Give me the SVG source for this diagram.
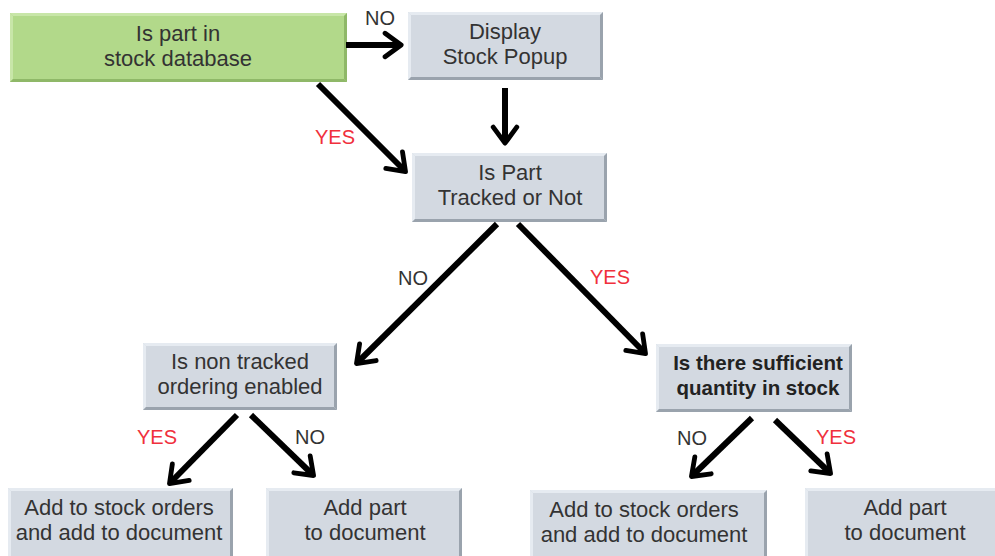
<svg xmlns="http://www.w3.org/2000/svg" width="995" height="556" viewBox="0 0 995 556">
<style>
.box{fill:#d3d9e1}
.hl{fill:#e6ebf1}
.sh{fill:#9aa3ad}
.gbox{fill:#b2d98a}
.ghl{fill:#c8e6a8}
.gsh{fill:#8fb868}
.t{font-family:"Liberation Sans",Arial,sans-serif;font-size:22px;fill:#333;text-anchor:middle}
.tb{font-weight:bold;font-size:20.5px;fill:#222}
.lbl{font-family:"Liberation Sans",Arial,sans-serif;font-size:20px;text-anchor:middle}
.no{fill:#333}
.yes{fill:#f0303c}
.conn{stroke:#000;stroke-width:6;fill:none;marker-end:url(#ah)}
</style>
<defs>
<marker id="ah" markerUnits="userSpaceOnUse" markerWidth="30" markerHeight="30" viewBox="-20 -14 24 28" refX="-2" refY="0" orient="auto">
<path d="M-15,-11 L0,0 L-15,11" fill="none" stroke="#000" stroke-width="4.5" stroke-linejoin="round" stroke-linecap="round"/>
</marker>
</defs>

<g id="n1">
<rect class="gbox" x="10" y="13" width="337" height="69"/>
<polygon class="ghl" points="10,13 347,13 344,16 13,16"/>
<polygon class="ghl" points="10,13 13,16 13,79 10,82"/>
<polygon class="gsh" points="347,13 347,82 344,79 344,16"/>
<polygon class="gsh" points="10,82 347,82 344,79 13,79"/>
<text class="t" x="178" y="41">Is part in</text>
<text class="t" x="178" y="66">stock database</text>
</g>

<g id="n2">
<rect class="box" x="408" y="12" width="195" height="68"/>
<polygon class="hl" points="408,12 603,12 600,15 411,15"/>
<polygon class="hl" points="408,12 411,15 411,77 408,80"/>
<polygon class="sh" points="603,12 603,80 600,77 600,15"/>
<polygon class="sh" points="408,80 603,80 600,77 411,77"/>
<text class="t" x="505" y="39">Display</text>
<text class="t" x="505" y="64">Stock Popup</text>
</g>

<g id="n3">
<rect class="box" x="412" y="153" width="195" height="69"/>
<polygon class="hl" points="412,153 607,153 604,156 415,156"/>
<polygon class="hl" points="412,153 415,156 415,219 412,222"/>
<polygon class="sh" points="607,153 607,222 604,219 604,156"/>
<polygon class="sh" points="412,222 607,222 604,219 415,219"/>
<text class="t" x="510" y="180">Is Part</text>
<text class="t" x="510" y="205">Tracked or Not</text>
</g>

<g id="n4">
<rect class="box" x="143" y="343" width="194" height="67"/>
<polygon class="hl" points="143,343 337,343 334,346 146,346"/>
<polygon class="hl" points="143,343 146,346 146,407 143,410"/>
<polygon class="sh" points="337,343 337,410 334,407 334,346"/>
<polygon class="sh" points="143,410 337,410 334,407 146,407"/>
<text class="t" x="240" y="369">Is non tracked</text>
<text class="t" x="240" y="394">ordering enabled</text>
</g>

<g id="n5">
<rect class="box" x="656" y="344" width="196" height="68"/>
<polygon class="hl" points="656,344 852,344 849,347 659,347"/>
<polygon class="hl" points="656,344 659,347 659,409 656,412"/>
<polygon class="sh" points="852,344 852,412 849,409 849,347"/>
<polygon class="sh" points="656,412 852,412 849,409 659,409"/>
<text class="t tb" x="758" y="370">Is there sufficient</text>
<text class="t tb" x="758" y="395">quantity in stock</text>
</g>

<g id="n6">
<rect class="box" x="8" y="488" width="225" height="68"/>
<polygon class="hl" points="8,488 233,488 230,491 11,491"/>
<polygon class="hl" points="8,488 11,491 11,556 8,556"/>
<polygon class="sh" points="233,488 233,556 230,556 230,491"/>
<text class="t" x="119" y="515">Add to stock orders</text>
<text class="t" x="119" y="540">and add to document</text>
</g>

<g id="n7">
<rect class="box" x="266" y="488" width="196" height="68"/>
<polygon class="hl" points="266,488 462,488 459,491 269,491"/>
<polygon class="hl" points="266,488 269,491 269,556 266,556"/>
<polygon class="sh" points="462,488 462,556 459,556 459,491"/>
<text class="t" x="365" y="515">Add part</text>
<text class="t" x="365" y="540">to document</text>
</g>

<g id="n8">
<rect class="box" x="530" y="490" width="237" height="66"/>
<polygon class="hl" points="530,490 767,490 764,493 533,493"/>
<polygon class="hl" points="530,490 533,493 533,556 530,556"/>
<polygon class="sh" points="767,490 767,556 764,556 764,493"/>
<text class="t" x="644" y="517">Add to stock orders</text>
<text class="t" x="644" y="542">and add to document</text>
</g>

<g id="n9">
<rect class="box" x="805" y="488" width="195" height="68"/>
<polygon class="hl" points="805,488 995,488 995,491 808,491"/>
<polygon class="hl" points="805,488 808,491 808,556 805,556"/>
<text class="t" x="905" y="515">Add part</text>
<text class="t" x="905" y="540">to document</text>
</g>

<g id="connectors">
<line class="conn" x1="346" y1="45" x2="399" y2="45"/>
<line class="conn" x1="505" y1="88" x2="505" y2="141"/>
<line class="conn" x1="318" y1="84" x2="404" y2="170"/>
<line class="conn" x1="497" y1="224" x2="358" y2="362"/>
<line class="conn" x1="518" y1="224" x2="644" y2="352"/>
<line class="conn" x1="237" y1="415" x2="171" y2="482"/>
<line class="conn" x1="251" y1="415" x2="312" y2="474"/>
<line class="conn" x1="752" y1="418" x2="693" y2="475"/>
<line class="conn" x1="775" y1="420" x2="829" y2="472"/>
<text class="lbl no" x="380" y="25">NO</text>
<text class="lbl yes" x="335" y="144">YES</text>
<text class="lbl no" x="413" y="285">NO</text>
<text class="lbl yes" x="610" y="284">YES</text>
<text class="lbl yes" x="157" y="444">YES</text>
<text class="lbl no" x="310" y="444">NO</text>
<text class="lbl no" x="692" y="445">NO</text>
<text class="lbl yes" x="836" y="444">YES</text>
</g>
</svg>
